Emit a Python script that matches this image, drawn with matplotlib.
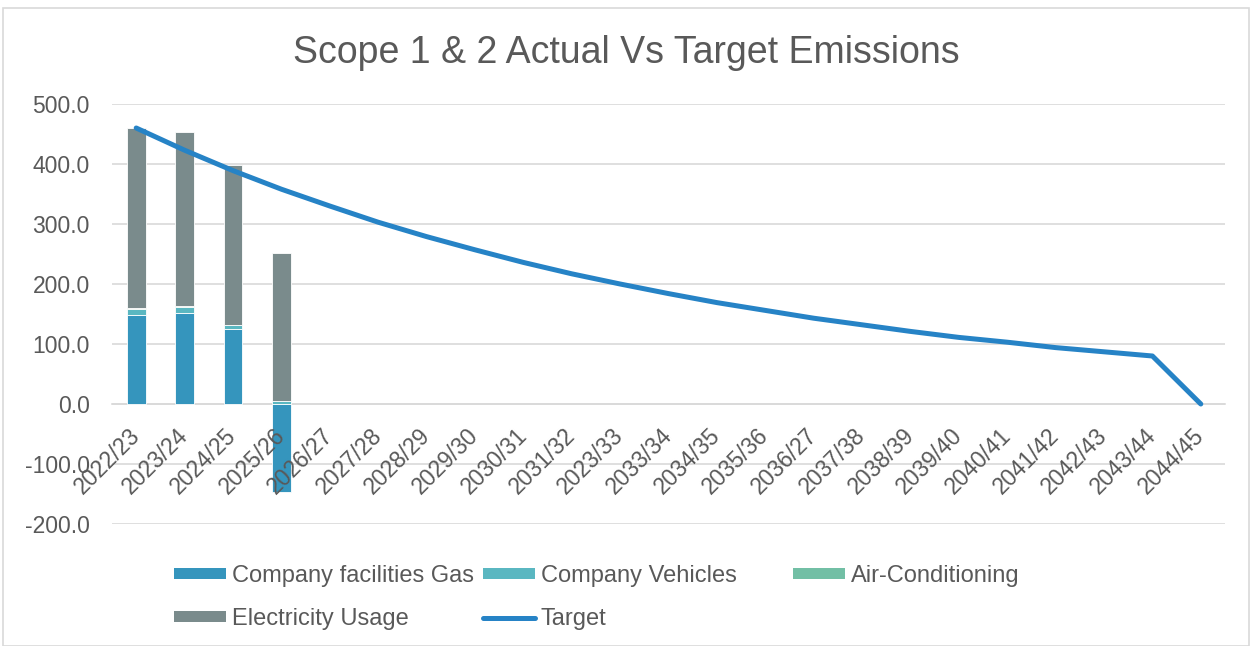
import numpy as np
import matplotlib.pyplot as plt
from matplotlib.patches import Rectangle, Patch
from matplotlib.lines import Line2D

plt.rcParams['font.family'] = ['Liberation Sans', 'DejaVu Sans']

# 데이터
years = ['2022/23', '2023/24', '2024/25', '2025/26', '2026/27', '2027/28', '2028/29',
         '2029/30', '2030/31', '2031/32', '2023/33', '2033/34', '2034/35', '2035/36',
         '2036/27', '2037/38', '2038/39', '2039/40', '2040/41', '2041/42', '2042/43',
         '2043/44', '2044/45']
gas = [148.0, 152.0, 125.0, -146.0]
vehicles = [11.0, 10.0, 6.0, 5.0]
aircon = [1.0, 1.0, 1.0, 0.5]
electricity = [300.0, 290.0, 266.0, 246.0]
target = [460, 423, 389, 358, 330, 303, 279, 257, 236, 217, 200, 184, 169, 156,
          143, 132, 121, 111, 103, 94, 87, 80, 0]

c_gas = '#3595BD'
c_veh = '#5AB7C1'
c_air = '#72BFA5'
c_elec = '#7A8B8C'
c_target = '#2683C6'
c_text = '#595959'

fig = plt.figure(figsize=(12.52, 6.46), dpi=100)
ax = fig.add_axes([112 / 1252, 1 - 524 / 646, (1225 - 112) / 1252, (524 - 104) / 646])

# 막대 (누적)
x = np.arange(len(gas))
w = 0.39
pos = np.zeros(len(gas))
neg = np.zeros(len(gas))
for vals, col in [(gas, c_gas), (vehicles, c_veh), (aircon, c_air), (electricity, c_elec)]:
    v = np.array(vals)
    bottom = np.where(v >= 0, pos, neg)
    ax.bar(x, v, w, bottom=bottom, color=col, edgecolor='white', linewidth=0.6, zorder=2)
    pos = pos + np.where(v >= 0, v, 0)
    neg = neg + np.where(v < 0, v, 0)

# 목표선
ax.plot(np.arange(len(years)), target, color=c_target, linewidth=3.6,
        solid_capstyle='round', solid_joinstyle='round', zorder=3)

ax.set_xlim(-0.5, len(years) - 0.5)
ax.set_ylim(-200, 500)
ax.set_yticks(np.arange(-200, 501, 100))
ax.set_yticklabels(['%.1f' % v for v in np.arange(-200, 501, 100)])
ax.yaxis.grid(True, color='#D9D9D9', linewidth=1.2)
ax.yaxis.set_zorder(0.5)
ax.xaxis.set_zorder(5)
for s in ['top', 'right', 'left']:
    ax.spines[s].set_visible(False)
ax.spines['bottom'].set_position(('data', 0))
ax.spines['bottom'].set_color('#D9D9D9')
ax.spines['bottom'].set_linewidth(1.2)
ax.spines['bottom'].set_zorder(1)

ax.set_xticks(np.arange(len(years)))
ax.set_xticklabels(years, rotation=45, ha='right', va='center', rotation_mode='anchor')
ax.tick_params(axis='x', length=0, pad=20, labelsize=16.5, colors=c_text)
ax.tick_params(axis='y', length=0, pad=16, labelsize=16.5, colors=c_text)

fig.text(0.5, 1 - 63 / 646, 'Scope 1 & 2 Actual Vs Target Emissions', ha='center', va='baseline',
         fontsize=27, color=c_text)

# 범례 (열별로 배치)
def patch(c):
    return Patch(facecolor=c, edgecolor='none')

cols = [
    ([patch(c_gas), patch(c_elec)], ['Company facilities Gas', 'Electricity Usage'], 174),
    ([patch(c_veh), Line2D([], [], color=c_target, linewidth=3.6, solid_capstyle='round')],
     ['Company Vehicles', 'Target'], 483),
    ([patch(c_air)], ['Air-Conditioning'], 793),
]
for handles, labels, px in cols:
    fig.legend(handles, labels, loc='upper left', bbox_to_anchor=(px / 1252, 1 - 565 / 646),
               frameon=False, fontsize=17, labelcolor=c_text, handlelength=2.2,
               handleheight=0.38, handletextpad=0.25, labelspacing=0.88, borderpad=0,
               borderaxespad=0)

fig.patches.append(Rectangle((3 / 1252, 0), 1 - 6 / 1252, 1 - 8 / 646, transform=fig.transFigure,
                             fill=False, edgecolor='#D9D9D9', linewidth=1.2))

fig.savefig('out.png', dpi=100)
